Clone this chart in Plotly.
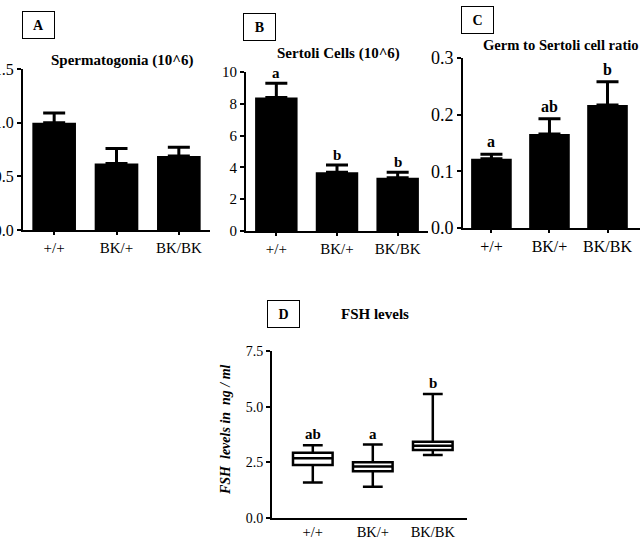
import plotly.graph_objects as go

# genotype groups shared by all panels
genotypes = ["+/+", "BK/+", "BK/BK"]

# A: spermatogonia (10^6)
sperm_mean = [1.0, 0.62, 0.69]
sperm_err = [0.09, 0.14, 0.08]

# B: Sertoli cells (10^6)
sertoli_mean = [8.4, 3.7, 3.35]
sertoli_err = [0.9, 0.45, 0.35]
sertoli_letters = ["a", "b", "b"]

# C: germ to Sertoli cell ratio
ratio_mean = [0.122, 0.166, 0.217]
ratio_err = [0.008, 0.027, 0.041]
ratio_letters = ["a", "ab", "b"]

# D: FSH levels (ng/ml), box summaries
fsh_low = [1.59, 1.40, 2.83]
fsh_q1 = [2.38, 2.10, 3.05]
fsh_median = [2.68, 2.31, 3.24]
fsh_q3 = [2.93, 2.50, 3.42]
fsh_high = [3.27, 3.30, 5.57]
fsh_letters = ["ab", "a", "b"]

W, H = 640, 538
FONT = "Liberation Serif, Times New Roman, serif"


def px_x(x):
    return x / W


def px_y(y):
    return 1 - y / H


fig = go.Figure()


def add_bars(axis_id, means, errs):
    fig.add_trace(go.Bar(
        x=genotypes, y=means,
        width=0.7,
        marker=dict(color="black", line=dict(width=0)),
        error_y=dict(type="data", symmetric=False, array=errs,
                     arrayminus=[0] * len(errs),
                     color="black", thickness=3, width=11),
        xaxis="x" + axis_id, yaxis="y" + axis_id,
        showlegend=False, hoverinfo="skip",
    ))


add_bars("", sperm_mean, sperm_err)
add_bars("2", sertoli_mean, sertoli_err)
add_bars("3", ratio_mean, ratio_err)

fig.add_trace(go.Box(
    x=genotypes, q1=fsh_q1, median=fsh_median, q3=fsh_q3,
    lowerfence=fsh_low, upperfence=fsh_high,
    width=0.66, whiskerwidth=0.5, boxpoints=False,
    fillcolor="white", line=dict(color="black", width=2.5),
    xaxis="x4", yaxis="y4", showlegend=False, hoverinfo="skip",
))


def tfont(size):
    return dict(family=FONT, size=size, color="black")


axis_common = dict(
    showline=True, linecolor="black", linewidth=2,
    ticks="outside", tickcolor="black", tickwidth=2, ticklen=4,
    showgrid=False, zeroline=False, automargin=False,
)
xaxis_common = dict(axis_common, ticklen=3, type="category", tickfont=tfont(15))

fig.update_layout(
    width=W, height=H,
    margin=dict(l=0, r=0, t=0, b=0, autoexpand=False),
    paper_bgcolor="white", plot_bgcolor="white",
    font=dict(family=FONT, color="black"),
    xaxis=dict(xaxis_common, domain=[px_x(23), px_x(210)], range=[-0.5, 2.5], anchor="y"),
    yaxis=dict(axis_common, domain=[px_y(230), px_y(69)], range=[0, 1.5],
               tickvals=[0, 0.5, 1.0, 1.5], tickformat=".1f", anchor="x",
               tickfont=tfont(16)),
    xaxis2=dict(xaxis_common, domain=[px_x(246), px_x(428)], range=[-0.5, 2.5], anchor="y2"),
    yaxis2=dict(axis_common, domain=[px_y(231), px_y(72)], range=[0, 10],
                dtick=2, anchor="x2", tickfont=tfont(15)),
    xaxis3=dict(xaxis_common, domain=[px_x(463), 1.0], range=[-0.49, 2.56], anchor="y3",
                tickfont=tfont(16)),
    yaxis3=dict(axis_common, domain=[px_y(228), px_y(58)], range=[0, 0.3],
                dtick=0.1, tickformat=".1f", anchor="x3", tickfont=tfont(18)),
    xaxis4=dict(xaxis_common, ticks="", domain=[px_x(272), px_x(467)],
                range=[-0.68, 2.57], anchor="y4", tickfont=tfont(14.5)),
    yaxis4=dict(axis_common, domain=[px_y(518), px_y(351)], range=[0, 7.5],
                dtick=2.5, tickformat=".1f", anchor="x4", tickfont=tfont(14)),
)

annotations = []

# panel letters in boxes
for letter, cx, cy in [("A", 38.5, 24.5), ("B", 259, 27), ("C", 477, 19.5), ("D", 283.5, 313.5)]:
    annotations.append(dict(
        text="<b>%s</b>" % letter, x=px_x(cx), y=px_y(cy), xref="paper", yref="paper",
        xanchor="center", yanchor="middle",
        showarrow=False, width=31, height=26, borderwidth=1, bordercolor="black",
        borderpad=0, font=tfont(14),
    ))

# panel titles
annotations += [
    dict(text="<b>Spermatogonia (10^6)</b>", x=px_x(122), y=px_y(61), xanchor="center"),
    dict(text="<b>Sertoli Cells (10^6)</b>", x=px_x(338), y=px_y(53), xanchor="center"),
    dict(text="<b>Germ to Sertoli cell ratio</b>", x=px_x(481), y=px_y(45), xanchor="left"),
    dict(text="<b>FSH levels</b>", x=px_x(375), y=px_y(314), xanchor="center"),
]
for a in annotations[-4:]:
    a.update(xref="paper", yref="paper", yanchor="middle", showarrow=False, font=tfont(15))
annotations[-2]["font"] = tfont(14.6)

# significance letters
for i, g in enumerate(genotypes):
    annotations.append(dict(text="<b>%s</b>" % sertoli_letters[i], x=g,
                            y=sertoli_mean[i] + sertoli_err[i], xref="x2", yref="y2",
                            xanchor="center", yanchor="bottom", yshift=0,
                            showarrow=False, font=tfont(15)))
    annotations.append(dict(text="<b>%s</b>" % ratio_letters[i], x=g,
                            y=ratio_mean[i] + ratio_err[i], xref="x3", yref="y3",
                            xanchor="center", yanchor="bottom", yshift=2,
                            showarrow=False, font=tfont(16)))
    annotations.append(dict(text="<b>%s</b>" % fsh_letters[i], x=g,
                            y=fsh_high[i], xref="x4", yref="y4",
                            xanchor="center", yanchor="bottom", yshift=1,
                            showarrow=False, font=tfont(15)))

# D y-axis title
annotations.append(dict(
    text="<b><i>FSH  levels in  ng / ml</i></b>", x=px_x(225), y=px_y(430),
    xref="paper", yref="paper", xanchor="center", yanchor="middle",
    textangle=-90, showarrow=False, font=tfont(14),
))

fig.update_layout(annotations=annotations)

fig.write_html("out.html", config={"displayModeBar": False},
               post_script="document.body.style.margin='0';")
